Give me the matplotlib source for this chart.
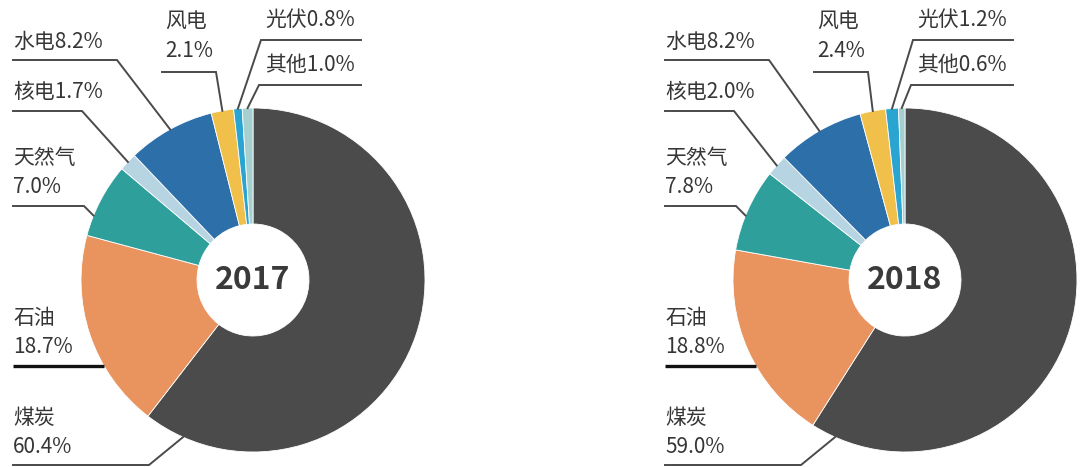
import numpy as np
import matplotlib
matplotlib.use("Agg")
import matplotlib.pyplot as plt

plt.rcParams['font.family'] = ['Noto Sans CJK SC', 'DejaVu Sans']

# data
years = ["2017", "2018"]
sources = ["煤炭", "石油", "天然气", "核电", "水电", "风电", "光伏", "其他"]
share_2017 = [60.4, 18.7, 7.0, 1.7, 8.2, 2.1, 0.8, 1.0]
share_2018 = [59.0, 18.8, 7.8, 2.0, 8.2, 2.4, 1.2, 0.6]
colors = ["#4c4b4c", "#e9935f", "#2f9f9b", "#b6d4e1", "#2c6fa9", "#f0c04a", "#2aa5d2", "#a6d0cf"]

W, H = 1080, 467
R, R_HOLE = 172, 56
centers = [(253, 280), (905, 280)]
text_color = "#363636"
line_color = "#4a4a4a"
fs = 15

# label layout in pixels (y down), for the left chart; the right one is shifted
# text x, y of first line, two lines?, rule y, rule far end x, rule elbow x, fixed anchor angle
layout = {
    "煤炭": (13, 418, True, 465, 13, 149, 204),
    "石油": (13, 318, True, 366, 13, None, None),   # rule runs straight into the ring
    "天然气": (13, 158, True, 206, 13, 84, 292),
    "核电": (13, 92, False, 111, 13, 82, None),
    "水电": (13, 42, False, 60, 13, 117, None),
    "风电": (165, 22, True, 72, 162, 216, None),
    "光伏": (265, 20, False, 40, 361, 261, None),
    "其他": (265, 65, False, 85, 361, 259, None),
}

fig = plt.figure(figsize=(W / 100, H / 100), dpi=100)

# donuts, each in its own square axes
for year, shares, (cx, cy) in zip(years, [share_2017, share_2018], centers):
    pax = fig.add_axes([(cx - R) / W, (H - cy - R) / H, 2 * R / W, 2 * R / H])
    pax.pie(shares, colors=colors, radius=1, startangle=90, counterclock=False,
            wedgeprops=dict(width=1 - R_HOLE / R, edgecolor='white', linewidth=0.6))
    pax.set_xlim(-1, 1)
    pax.set_ylim(-1, 1)
    pax.axis('off')
    pax.text(0, 0, year, ha='center', va='center', fontsize=23,
             fontweight='bold', color='#3a3a3a')

# overlay in pixel coords for labels and leader lines
ax = fig.add_axes([0, 0, 1, 1])
ax.set_xlim(0, W)
ax.set_ylim(H, 0)
ax.axis('off')

for shares, (cx, cy) in zip([share_2017, share_2018], centers):
    dx = cx - centers[0][0]
    frac = np.array(shares) / np.sum(shares)
    mids = (np.cumsum(frac) - frac / 2) * 360

    for name, val, mid in zip(sources, shares, mids):
        tx, ty, two, ry, rx_far, rx_elbow, ang = layout[name]
        if two:
            ax.text(tx + dx, ty, name, ha='left', va='center', fontsize=fs, color=text_color)
            ax.text(tx + dx, ty + 29, f"{val:.1f}%", ha='left', va='center', fontsize=fs, color=text_color)
        else:
            ax.text(tx + dx, ty, f"{name}{val:.1f}%", ha='left', va='center', fontsize=fs, color=text_color)

        if rx_elbow is None:
            # horizontal rule up to the ring edge
            x_edge = cx - np.sqrt(R ** 2 - (ry - cy) ** 2)
            ax.plot([rx_far + dx, x_edge], [ry, ry], color='#111111', lw=2.4,
                    solid_capstyle='butt')
            continue
        a = np.deg2rad(ang if ang is not None else mid)
        px, py = cx + R * np.sin(a), cy - R * np.cos(a)
        ax.plot([rx_far + dx, rx_elbow + dx, px], [ry, ry, py], color=line_color, lw=1.4,
                solid_joinstyle='miter')

fig.savefig("out.png", dpi=100)
